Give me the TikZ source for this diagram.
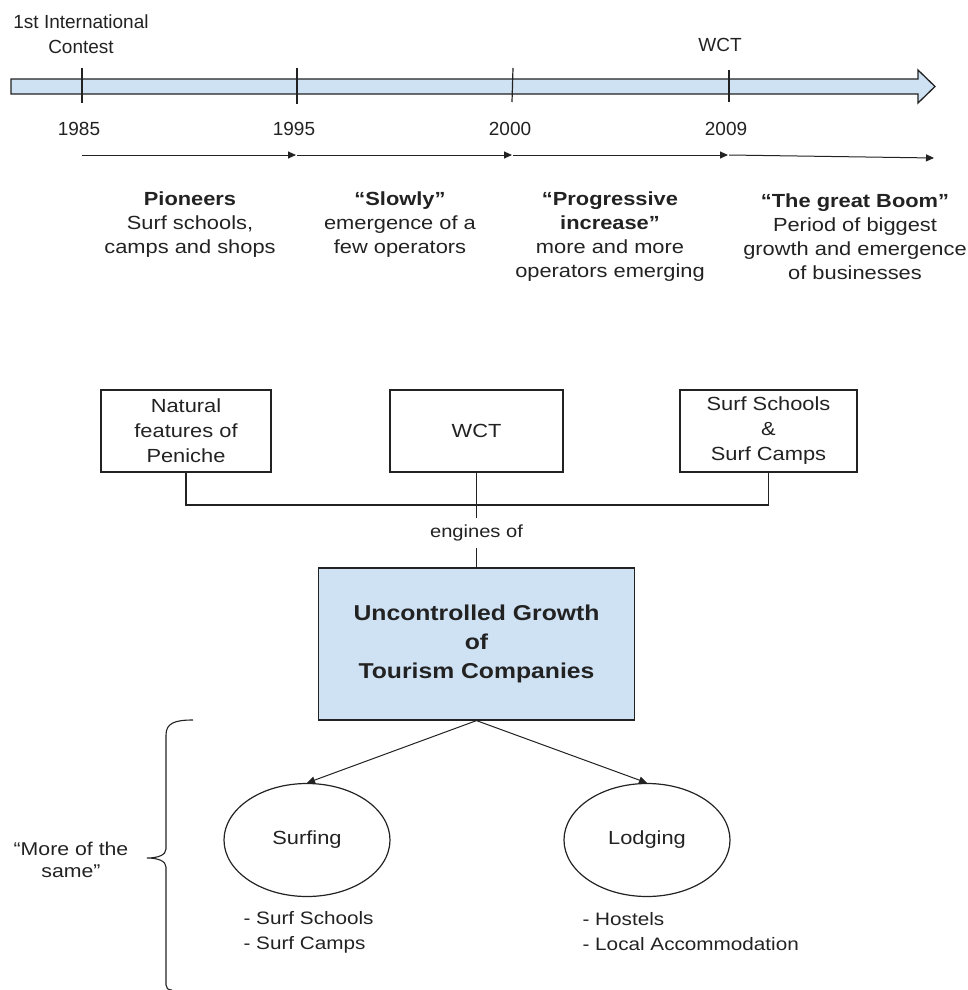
\documentclass[tikz,border=0pt]{standalone}
\usepackage{fontspec}
\setmainfont{Liberation Sans}
\newfontfamily\widefont[FakeStretch=1.15]{Liberation Sans}
\usetikzlibrary{arrows.meta,shapes.geometric}
\definecolor{lblue}{HTML}{CFE2F3}
\definecolor{ink}{HTML}{222222}
\begin{document}
\begin{tikzpicture}[x=1pt,y=-1pt,line width=1.2pt,color=ink,line join=miter,
  toplbl/.style={inner sep=0,align=center,font=\fontsize{19}{25}\selectfont},
  phase/.style={inner sep=0,align=center,font=\widefont\fontsize{19}{24}\selectfont},
  boxnode/.style={draw,rectangle,inner sep=0,align=center,minimum height=82pt,font=\widefont\fontsize{19}{25}\selectfont},
  bubble/.style={draw,ellipse,inner sep=0,minimum width=166pt,minimum height=113pt,font=\widefont\fontsize{19}{24}\selectfont},
  listlbl/.style={inner sep=0,align=left,font=\widefont\fontsize{18}{25}\selectfont},
  tip/.style={-{Triangle[length=8pt,width=7pt]}}]
\useasboundingbox (0,0) rectangle (968,990);
% timeline block arrow
\draw[fill=lblue,line width=1.3pt] (11,79) -- (918,79) -- (918,70) -- (935,86.5) -- (918,103) -- (918,94) -- (11,94) -- cycle;
% ticks
\coordinate (k1t) at (82,68);  \coordinate (k1b) at (82,103);
\coordinate (k2t) at (297,68); \coordinate (k2b) at (297,104);
\coordinate (k3t) at (513,68); \coordinate (k3b) at (512,102);
\coordinate (k4t) at (729,70); \coordinate (k4b) at (729,102);
\draw (k1t) -- (k1b); \draw (k2t) -- (k2b); \draw (k3t) -- (k3b); \draw (k4t) -- (k4b);
% labels above
\node[toplbl] (contest) at (81,34) {1st International\\Contest};
\node[toplbl,anchor=base] (wcttop) at (720,52) {WCT};
% years
\node[toplbl,anchor=base] (y1985) at (79,135) {1985};
\node[toplbl,anchor=base] (y1995) at (294,135) {1995};
\node[toplbl,anchor=base] (y2000) at (510,135) {2000};
\node[toplbl,anchor=base] (y2009) at (726,135) {2009};
% period arrows
\coordinate (a1) at (82,155);
\coordinate (a2) at (297,155);
\coordinate (a3) at (513,155);
\coordinate (a4) at (729,155);
\coordinate (a5) at (934,158);
\draw[tip,line width=1pt,shorten >=1pt] (a1) -- (a2);
\draw[tip,line width=1pt,shorten >=1pt] (a2) -- (a3);
\draw[tip,line width=1pt,shorten >=1pt] (a3) -- (a4);
\draw[tip,line width=1pt] (a4) -- (a5);
% phase descriptions
\node[phase] (p1) at (190,225) {\bfseries Pioneers\\Surf schools,\\camps and shops};
\node[phase] (p2) at (400,225) {\bfseries “Slowly”\\emergence of a\\few operators};
\node[phase] (p3) at (610,237) {\bfseries “Progressive\\\bfseries increase”\\more and more\\operators emerging};
\node[phase] (p4) at (855,237) {\bfseries “The great Boom”\\Period of biggest\\growth and emergence\\of businesses};
% engine boxes
\node[boxnode,minimum width=170pt] (nat) at (186,431) {Natural\\features of\\Peniche};
\node[boxnode,minimum width=173pt] (wct) at (476.5,431) {WCT};
\node[boxnode,minimum width=177pt] (ssc) at (768.5,431) {Surf Schools\\\&\\Surf Camps};
\coordinate (join) at (476.5,505);
\node[inner sep=0,minimum height=28pt,font=\widefont\fontsize{17.5}{20}\selectfont] (eng) at (476.5,533) {engines of};
\node[draw,fill=lblue,rectangle,inner sep=0,minimum width=316pt,minimum height=152pt,align=center,
  font=\widefont\bfseries\fontsize{21.5}{29}\selectfont] (ucg) at (476.5,644) {Uncontrolled Growth\\of\\Tourism Companies};
\draw (nat.south) |- (join) -| (ssc.south);
\draw (wct.south) -- (join) -- (eng.north);
\draw (eng.south) -- (ucg.north);
% sectors
\node[bubble] (surf) at (307,840) {Surfing};
\node[bubble] (lodg) at (647,840) {Lodging};
\draw[tip,line width=1pt] (ucg.south) -- (surf.north);
\draw[tip,line width=1pt] (ucg.south) -- (lodg.north);
\node[listlbl,anchor=west] (surflist) at (243,932) {- Surf Schools\\- Surf Camps};
\node[listlbl,anchor=west] (lodglist) at (582,932) {- Hostels\\- Local Accommodation};
% brace
\draw[line width=1.1pt] (193,720) .. controls (175,720) and (166,723) .. (166,735) -- (166,849)
  .. controls (166,855) and (158,858) .. (147,858)
  .. controls (158,858) and (166,861) .. (166,867) -- (166,985) .. controls (166,988) and (168,990) .. (172,990);
\node[inner sep=0,align=center,font=\widefont\fontsize{18.5}{22}\selectfont] (same) at (71,860) {“More of the\\same”};
\end{tikzpicture}
\end{document}
